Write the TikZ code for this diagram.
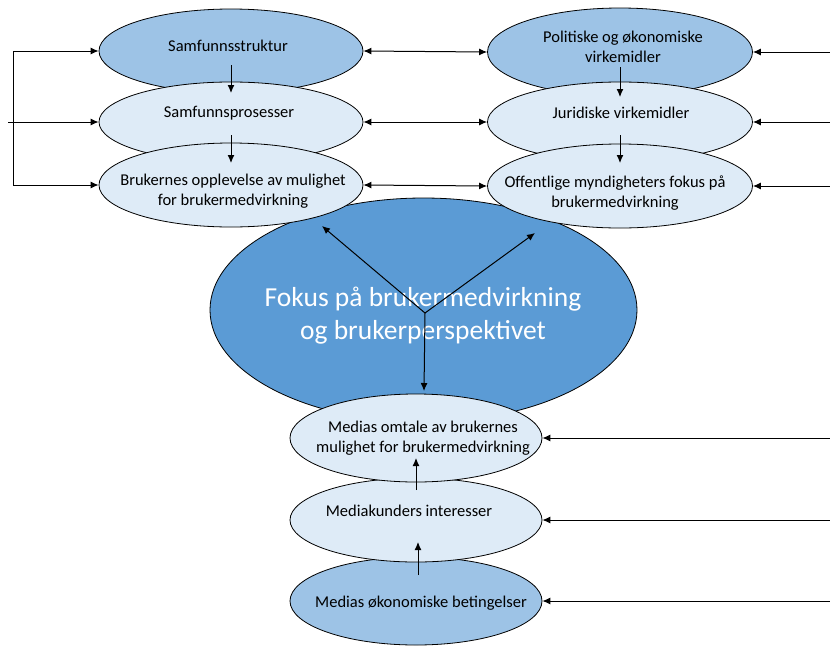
\documentclass[tikz,border=0pt]{standalone}
\usepackage{fontspec}
\setmainfont{Carlito}
\usetikzlibrary{shapes.geometric,arrows.meta,calc}

\definecolor{darkfill}{HTML}{9DC3E6}
\definecolor{lightfill}{HTML}{DEEBF7}
\definecolor{corefill}{HTML}{5B9BD5}

\tikzset{
  oval/.style={ellipse, draw=black, line width=0.8pt, inner sep=0pt},
  label text/.style={inner sep=0pt, align=center, font=\fontsize{16.5}{20}\selectfont},
  core text/.style={inner sep=0pt, align=center, text=white, font=\fontsize{27.5}{33}\selectfont},
  arr/.style={line width=1pt, -{Latex[length=8pt,width=7pt]}},
  biarr/.style={line width=1pt, {Latex[length=8pt,width=7pt]}-{Latex[length=8pt,width=7pt]}},
  plain/.style={line width=1pt}
}

\begin{document}
\begin{tikzpicture}[x=1pt,y=-1pt]
\useasboundingbox (0,0) rectangle (830,646);

% central ellipse
\node[oval, fill=corefill, minimum width=427pt, minimum height=224pt] (core) at (423.5,310) {};
\node[core text] (coret) at (423,316) {Fokus på brukermedvirkning\\og brukerperspektivet};

% left column
\node[oval, fill=darkfill, minimum width=264pt, minimum height=84pt] (s1) at (231,51) {};
\node[oval, fill=lightfill, minimum width=264pt, minimum height=80pt] (s2) at (231,122) {};
\node[oval, fill=lightfill, minimum width=264pt, minimum height=84pt] (s3) at (231,185) {};
\node[label text] (s1t) at (228,46) {Samfunnsstruktur};
\node[label text] (s2t) at (229,113) {Samfunnsprosesser};
\node[label text] (s3t) at (233,191) {Brukernes opplevelse av mulighet\\for brukermedvirkning};

% right column
\node[oval, fill=darkfill, minimum width=265pt, minimum height=88pt] (p1) at (620,52) {};
\node[oval, fill=lightfill, minimum width=265pt, minimum height=80pt] (p2) at (620,122) {};
\node[oval, fill=lightfill, minimum width=265pt, minimum height=84pt] (p3) at (620,186) {};
\node[label text] (p1t) at (623,47) {Politiske og økonomiske\\virkemidler};
\node[label text] (p2t) at (621,113) {Juridiske virkemidler};
\node[label text] (p3t) at (615,193) {Offentlige myndigheters fokus på\\brukermedvirkning};

% media column
\node[oval, fill=darkfill, minimum width=252pt, minimum height=88pt] (m3) at (416,601) {};
\node[oval, fill=lightfill, minimum width=252pt, minimum height=84pt] (m2) at (416,520) {};
\node[oval, fill=lightfill, minimum width=252pt, minimum height=88pt] (m1) at (416,438) {};
\node[label text] (m1t) at (423,438) {Medias omtale av brukernes\\mulighet for brukermedvirkning};
\node[label text] (m2t) at (409,511) {Mediakunders interesser};
\node[label text] (m3t) at (421,603) {Medias økonomiske betingelser};

% chains inside the columns
\draw[arr] ($(s1)+(0,14)$) -- ($(s2)+(0,-29)$);
\draw[arr] ($(s2)+(0,13)$) -- ($(s3)+(0,-22)$);
\draw[arr] ($(p1)+(0,15)$) -- ($(p2)+(0,-25)$);
\draw[arr] ($(p2)+(0,13)$) -- ($(p3)+(0,-23)$);
\draw[arr] ($(m3)+(2,-26)$) -- ($(m2)+(2,22)$);
\draw[arr] ($(m2)+(0,-30)$) -- ($(m1)+(0,20)$);

% links between the two upper columns
\draw[biarr] (s1.east) -- (p1.west);
\draw[biarr] (s2.east) -- (p2.west);
\draw[biarr] (s3.east) -- (p3.west);

% left feedback bracket
\coordinate (lt) at (13,51);
\coordinate (lb) at (13,185);
\coordinate (lin) at (8,122);
\draw[plain] (lt) -- (lb);
\draw[arr] (lt) -- (s1.west);
\draw[arr] (lin) -- (s2.west);
\draw[arr] (lb) -- (s3.west);

% inputs from the right edge
\coordinate (r1) at (830,52);
\coordinate (r2) at (830,122);
\coordinate (r3) at (830,186);
\coordinate (r4) at (830,438);
\coordinate (r5) at (830,520);
\coordinate (r6) at (830,601);
\draw[arr] (r1) -- (p1.east);
\draw[arr] (r2) -- (p2.east);
\draw[arr] (r3) -- (p3.east);
\draw[arr] (r4) -- (m1.east);
\draw[arr] (r5) -- (m2.east);
\draw[arr] (r6) -- (m3.east);

% arrows out of the central ellipse
\coordinate (hub) at (425,313);
\coordinate (hl) at (322,226);
\coordinate (hr) at (535,233);
\coordinate (hd) at (424,391);
\draw[arr] (hub) -- (hl);
\draw[arr] (hub) -- (hr);
\draw[arr] (hub) -- (hd);
\end{tikzpicture}
\end{document}
